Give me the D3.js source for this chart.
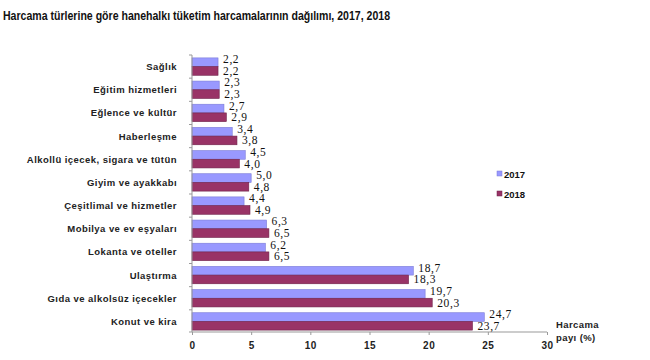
<!DOCTYPE html>
<html><head><meta charset="utf-8">
<script src="https://cdn.jsdelivr.net/npm/d3@7"></script>
<style>
body{margin:0;background:#fff;}
svg{display:block;}
</style></head>
<body>
<svg id="chart" width="650" height="360"></svg>
<script>
const categories = ["Sağlık","Eğitim hizmetleri","Eğlence ve kültür","Haberleşme","Alkollü içecek, sigara ve tütün","Giyim ve ayakkabı","Çeşitlimal ve hizmetler","Mobilya ve ev eşyaları","Lokanta ve oteller","Ulaştırma","Gıda ve alkolsüz içecekler","Konut ve kira"];
const values2017 = [2.2,2.3,2.7,3.4,4.5,5.0,4.4,6.3,6.2,18.7,19.7,24.7];
const values2018 = [2.2,2.3,2.9,3.8,4.0,4.8,4.9,6.5,6.5,18.3,20.3,23.7];
const seriesNames = ["2017","2018"];
const xTicks = [0,5,10,15,20,25,30];
const title = "Harcama türlerine göre hanehalkı tüketim harcamalarının dağılımı, 2017, 2018";
const axisTitle = ["Harcama","payı  (%)"];

const colors = {"2017":"#9999ff","2018":"#993366"};
const strokes = {"2017":"#7a7ad8","2018":"#6e2148"};

const svg = d3.select("#chart");
const x = d3.scaleLinear().domain([0,30]).range([192,547]);
const y = d3.scaleBand().domain(categories).range([55,333]).paddingInner(0.25).paddingOuter(0.125);
const sub = d3.scaleBand().domain(seriesNames).range([0,y.bandwidth()]);

// title
svg.append("text").attr("x",3).attr("y",20)
  .attr("font-family","'Liberation Sans Narrow','Arial Narrow','Liberation Sans',Arial,sans-serif")
  .attr("font-size",13).attr("font-weight","bold").attr("fill","#111")
  .attr("textLength",387).attr("lengthAdjust","spacingAndGlyphs")
  .text(title);

const rows = categories.map((c,i)=>({cat:c, v:{"2017":values2017[i],"2018":values2018[i]}}));

// bars
const g = svg.append("g");
rows.forEach(r=>{
  seriesNames.forEach(s=>{
    g.append("rect")
      .attr("x",x(0)).attr("y",y(r.cat)+sub(s))
      .attr("width",x(r.v[s])-x(0)).attr("height",sub.bandwidth())
      .attr("fill",colors[s]).attr("stroke",strokes[s]).attr("stroke-width",0.6);
  });
});

// value labels
const fmt = v => d3.format(".1f")(v).replace(".",",");
rows.forEach(r=>{
  seriesNames.forEach((s,j)=>{
    g.append("text")
      .attr("x",x(r.v[s])+5)
      .attr("y",y(r.cat)+sub(s)+sub.bandwidth()/2 + (j===0?1:4))
      .attr("font-family","'Liberation Serif','Times New Roman',serif")
      .attr("font-size",11.5).attr("letter-spacing",0.6).attr("fill","#111")
      .text(fmt(r.v[s]));
  });
});

// y axis
const yAxis = svg.append("g");
yAxis.append("line").attr("x1",x(0)).attr("x2",x(0)).attr("y1",y.range()[0]).attr("y2",332).attr("stroke","#999");
const step = y.step();
d3.range(categories.length+1).forEach(i=>{
  const yy = y.range()[0] + i*step;
  if (yy<=333) yAxis.append("line").attr("x1",x(0)-3).attr("x2",x(0)).attr("y1",Math.min(yy,332)).attr("y2",Math.min(yy,332)).attr("stroke","#999");
});
categories.forEach(c=>{
  yAxis.append("text").attr("x",177).attr("y",y(c)+y.bandwidth()/2+3.5)
    .attr("text-anchor","end")
    .attr("font-family","'Liberation Sans',Arial,sans-serif")
    .attr("font-size",9.5).attr("font-weight","bold").attr("letter-spacing",0.45).attr("fill","#222")
    .text(c);
});

// x axis
const xAxis = svg.append("g").attr("transform","translate(0,332)")
  .call(d3.axisBottom(x).tickValues(xTicks).tickSize(3).tickFormat(d=>d));
xAxis.select(".domain").attr("stroke","#999").attr("d","M192,0H547");
xAxis.selectAll(".tick line").attr("stroke","#999");
xAxis.selectAll(".tick text").attr("y",10).attr("dy","0.71em")
  .attr("font-family","'Liberation Sans',Arial,sans-serif").attr("font-size",10).attr("font-weight","bold")
  .attr("letter-spacing",0.5).attr("fill","#222");

// axis title
axisTitle.forEach((t,i)=>{
  svg.append("text").attr("x",556).attr("y",328+i*13)
    .attr("font-family","'Liberation Sans',Arial,sans-serif").attr("font-size",9.5).attr("font-weight","bold").attr("fill","#222")
    .attr("letter-spacing",0.4).text(t);
});

// legend
seriesNames.forEach((s,i)=>{
  const ly = 174 + i*20;
  svg.append("rect").attr("x",497).attr("y",ly-3).attr("width",5).attr("height",5).attr("fill",colors[s]).attr("stroke",strokes[s]).attr("stroke-width",0.5);
  svg.append("text").attr("x",504).attr("y",ly+3.5)
    .attr("font-family","'Liberation Sans',Arial,sans-serif").attr("font-size",9.5).attr("font-weight","bold").attr("fill","#111")
    .text(s);
});
</script>
</body></html>
